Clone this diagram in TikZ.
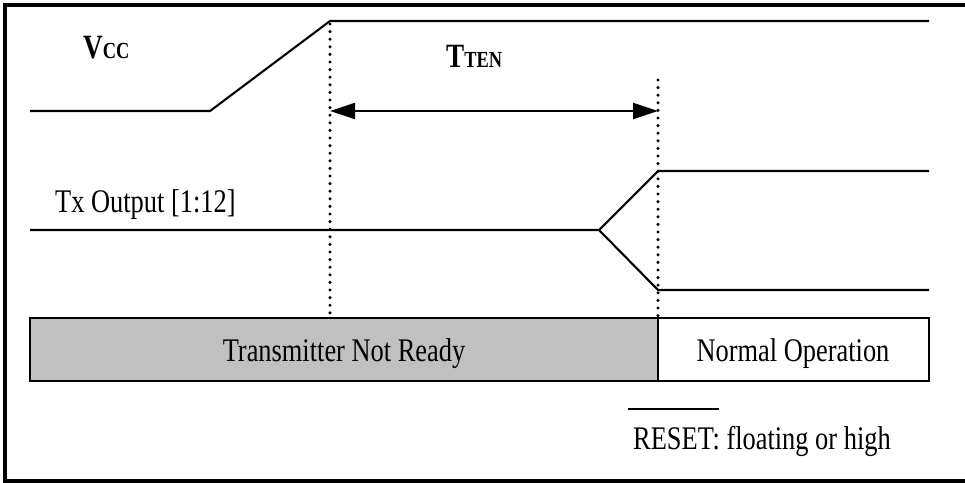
\documentclass[tikz,border=0pt]{standalone}
\usepackage{fontspec}
\setmainfont{Liberation Serif}[FakeStretch=0.8]
\usetikzlibrary{arrows.meta}
\newcommand\regfont{\fontsize{33}{38}\selectfont}
\newcommand\bigbf{\fontsize{34}{38}\selectfont\bfseries}
\newcommand\smallbf{\fontsize{23}{26}\selectfont\bfseries}
\begin{document}
\begin{tikzpicture}[x=1pt,y=-1pt,
  sig/.style={line width=2.1pt, line join=miter},
  dotline/.style={line width=3.4pt, line cap=round, dash pattern=on 0pt off 7.6pt},
  frame/.style={line width=3.2pt},
  dim/.style={line width=2.1pt, {Triangle[length=25pt,width=16pt]}-{Triangle[length=25pt,width=16pt]}},
  lbl/.style={inner sep=0pt, font=\regfont},
  phase/.style={draw, line width=2.6pt}
]
\useasboundingbox (0,0) rectangle (965,482);
% outer frame
\draw[frame] (970,5) -- (5,5) -- (5,481) -- (970,481);
% coordinates
\coordinate (v0) at (30,111);
\coordinate (v1) at (210,111);
\coordinate (v2) at (330,21);
\coordinate (v3) at (929,21);
\coordinate (t0) at (30,230);
\coordinate (t1) at (599,230);
\coordinate (th) at (658,171);
\coordinate (tl) at (658,290);
\coordinate (te1) at (929,171);
\coordinate (te2) at (929,290);
\coordinate (d1top) at (330,24);
\coordinate (d1bot) at (330,316);
\coordinate (d2top) at (658,80);
\coordinate (d2bot) at (658,316);
\coordinate (a1) at (330,111);
\coordinate (a2) at (658,111);
% Vcc signal
\draw[sig] (v0) -- (v1) -- (v2) -- (v3);
% Tx signal
\draw[sig] (t0) -- (t1) -- (th) -- (te1);
\draw[sig] (t1) -- (tl) -- (te2);
% dotted markers
\draw[dotline] (d1top) -- (d1bot);
\draw[dotline] (d2top) -- (d2bot);
% T_TEN arrow
\draw[dim] (a1) -- (a2);
% labels
\node[lbl, anchor=base west] (vcc) at (83,58) {\bigbf V\smallbf CC};
\node[lbl, anchor=base west] (tten) at (446,67) {\bigbf T\smallbf TEN};
\node[lbl, anchor=base west] (tx) at (55,212) {Tx Output [1:12]};
% phase boxes
\draw[phase, fill={rgb,255:red,192;green,192;blue,192}] (30,318) rectangle (658,381);
\draw[phase, fill=white] (658,318) rectangle (929,381);
\node[lbl, anchor=base] (tnr) at (344,361) {Transmitter Not Ready};
\node[lbl, anchor=base] (nop) at (793,361) {Normal Operation};
% RESET legend
\coordinate (ov0) at (628,409);
\coordinate (ov1) at (719,409);
\draw[line width=2.1pt] (ov0) -- (ov1);
\node[lbl, anchor=base west] (rst) at (633,449) {RESET: floating or high};
\end{tikzpicture}
\end{document}
